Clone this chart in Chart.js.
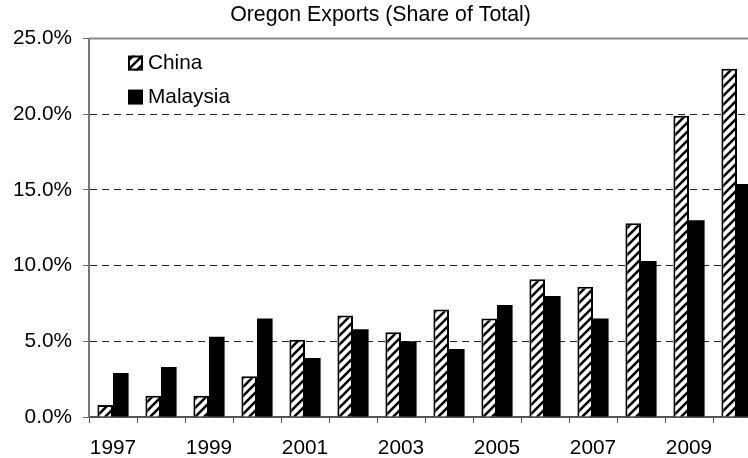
<!DOCTYPE html>
<html>
<head>
<meta charset="utf-8">
<script src="https://cdn.jsdelivr.net/npm/chart.js@4.4.0/dist/chart.umd.min.js"></script>
<style>
  html, body { margin: 0; padding: 0; background: #fff; width: 748px; height: 458px; overflow: hidden; }
  #wrap { width: 770px; height: 458px; }
</style>
</head>
<body>
<div id="wrap"><canvas id="chart" width="770" height="458"></canvas></div>
<script>
// Oregon exports, share of total (%)
const years = ['1997', '1998', '1999', '2000', '2001', '2002', '2003',
               '2004', '2005', '2006', '2007', '2008', '2009', '2010'];
const china    = [0.8, 1.4, 1.4, 2.7, 5.1, 6.7, 5.6, 7.1, 6.5, 9.1, 8.6, 12.8, 19.9, 23.0];
const malaysia = [2.9, 3.3, 5.3, 6.5, 3.9, 5.8, 5.0, 4.5, 7.4, 8.0, 6.5, 10.3, 13.0, 15.4];
const yTicks = [0, 5, 10, 15, 20, 25];

const FONT = '"Liberation Sans", Arial, sans-serif';

// diagonal "/" hatch used for the China series
function makeHatch() {
  const s = 9;
  const c = document.createElement('canvas');
  c.width = s; c.height = s;
  const g = c.getContext('2d');
  g.fillStyle = '#fff';
  g.fillRect(0, 0, s, s);
  g.strokeStyle = '#000';
  g.lineWidth = 2.6;
  g.beginPath();
  g.moveTo(-1, s + 1); g.lineTo(s + 1, -1);
  g.moveTo(-2, 2); g.lineTo(2, -2);
  g.moveTo(s - 2, s + 2); g.lineTo(s + 2, s - 2);
  g.stroke();
  return g.createPattern(c, 'repeat');
}
const hatch = makeHatch();

// legend drawn inside the plot, top-left
const insetLegend = {
  id: 'insetLegend',
  afterDraw(chart) {
    const { ctx, chartArea } = chart;
    ctx.save();
    chart.data.datasets.forEach((ds, i) => {
      const x = chartArea.left + 39;
      const y = chartArea.top + 17 + i * 34;
      ctx.fillStyle = ds.backgroundColor;
      ctx.fillRect(x, y, 15, 15);
      if (ds.borderWidth) {
        ctx.lineWidth = 2;
        ctx.strokeStyle = ds.borderColor;
        ctx.strokeRect(x + 1, y + 1, 13, 13);
      }
      ctx.fillStyle = '#000';
      ctx.font = '20.8px ' + FONT;
      ctx.textBaseline = 'middle';
      ctx.textAlign = 'left';
      ctx.fillText(ds.label, x + 20, y + 8);
    });
    ctx.restore();
  }
};

// upper edge of the plot frame
const frameTop = {
  id: 'frameTop',
  afterDraw(chart) {
    const { ctx, chartArea } = chart;
    ctx.save();
    ctx.strokeStyle = '#8a8a8a';
    ctx.lineWidth = 2;
    ctx.beginPath();
    ctx.moveTo(chartArea.left, chartArea.top);
    ctx.lineTo(chartArea.right, chartArea.top);
    ctx.stroke();
    ctx.restore();
  }
};

new Chart(document.getElementById('chart'), {
  type: 'bar',
  data: {
    labels: years,
    datasets: [
      { label: 'China', data: china, backgroundColor: hatch, borderColor: '#000', borderWidth: 2 },
      { label: 'Malaysia', data: malaysia, backgroundColor: '#000', borderColor: '#000', borderWidth: 0 }
    ]
  },
  options: {
    responsive: false,
    animation: false,
    devicePixelRatio: 1,
    layout: { padding: { left: 0, right: 9, top: 0, bottom: 0 } },
    datasets: { bar: { categoryPercentage: 0.65, barPercentage: 1.0 } },
    plugins: {
      legend: { display: false },
      tooltip: { enabled: false },
      title: {
        display: true,
        text: 'Oregon Exports (Share of Total)',
        color: '#000',
        font: { family: FONT, size: 21.3, weight: 'normal' },
        padding: { top: 2, bottom: 11 }
      }
    },
    scales: {
      x: {
        offset: true,
        afterFit(scale) { scale.height = 41; },
        grid: {
          offset: true,
          drawOnChartArea: false,
          drawTicks: true,
          tickLength: 6,
          tickColor: '#555',
          tickWidth: 1
        },
        border: { display: true, color: '#555', width: 2 },
        ticks: {
          autoSkip: false,
          maxRotation: 0,
          padding: 12.5,
          color: '#000',
          font: { family: FONT, size: 20.8 },
          callback(value, index) { return index % 2 === 0 ? years[index] : ''; }
        }
      },
      y: {
        min: yTicks[0],
        max: yTicks[yTicks.length - 1],
        afterFit(scale) { scale.width = 89; },
        afterBuildTicks(scale) { scale.ticks = yTicks.map(v => ({ value: v })); },
        grid: {
          color(ctx) {
            const v = ctx.tick && ctx.tick.value;
            return (v === yTicks[0] || v === yTicks[yTicks.length - 1]) ? 'rgba(0,0,0,0)' : '#222';
          },
          lineWidth: 1,
          drawTicks: true,
          tickLength: 6,
          tickColor: '#666',
          tickWidth: 1,
          tickBorderDash: []
        },
        border: { display: true, color: '#777', width: 2, dash: [7, 5] },
        ticks: {
          padding: 11,
          color: '#000',
          font: { family: FONT, size: 20.8 },
          callback(value) { return Number(value).toFixed(1) + '%'; }
        }
      }
    }
  },
  plugins: [insetLegend, frameTop]
});
</script>
</body>
</html>
